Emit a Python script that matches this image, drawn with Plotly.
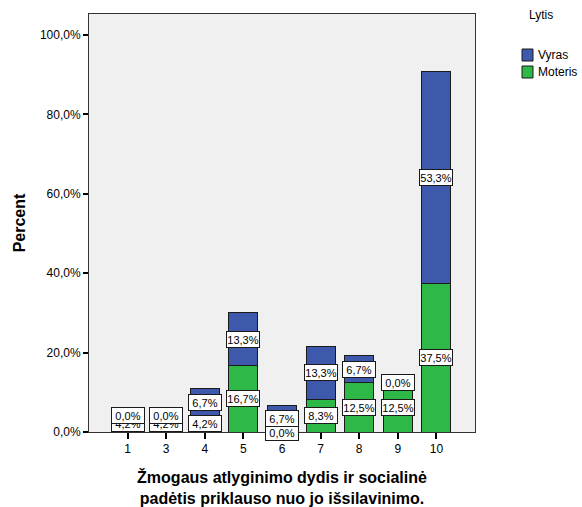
import plotly.graph_objects as go

categories = ["1", "3", "4", "5", "6", "7", "8", "9", "10"]
moteris = [4.2, 4.2, 4.2, 16.7, 0.0, 8.3, 12.5, 12.5, 37.5]
vyras = [0.0, 0.0, 6.7, 13.3, 6.7, 13.3, 6.7, 0.0, 53.3]
y_tickvals = [0, 20, 40, 60, 80, 100]
y_ticktext = ["0,0%", "20,0%", "40,0%", "60,0%", "80,0%", "100,0%"]
legend_title = "Lytis"
legend_names = ["Vyras", "Moteris"]

GREEN = "#2eb848"
BLUE = "#3e58ac"
FONT = "Liberation Sans, Arial, sans-serif"

W, H = 582, 507
L, R, T, B = 89, 107, 14, 75
PW, PH = W - L - R, H - T - B

def fmt(v):
    return f"{v:.1f}%".replace(".", ",")

def px(x):
    return (x - L) / PW

def py(y):
    return (H - B - y) / PH

fig = go.Figure()
fig.add_trace(go.Bar(x=categories, y=moteris, name="Moteris", showlegend=False,
                     marker=dict(color=GREEN, line=dict(color="#1a1a1a", width=1)), width=0.75))
fig.add_trace(go.Bar(x=categories, y=vyras, name="Vyras", showlegend=False,
                     marker=dict(color=BLUE, line=dict(color="#1a1a1a", width=1)), width=0.75))

ann = []
for i, m in enumerate(moteris):
    ann.append(dict(x=i, y=m / 2, text=fmt(m)))
for i, (m, v) in enumerate(zip(moteris, vyras)):
    ann.append(dict(x=i, y=m + v / 2, text=fmt(v)))
for a in ann:
    a.update(xref="x", yref="y", showarrow=False, bgcolor="white", bordercolor="#1a1a1a",
             borderwidth=1, borderpad=0, font=dict(family=FONT, size=11, color="black"),
             width=32, height=15)

# manual legend
ann.append(dict(xref="paper", yref="paper", x=px(541), y=py(15), text=legend_title, showarrow=False,
                font=dict(family=FONT, size=12, color="black"), xanchor="center", yanchor="middle"))
shapes = []
colors = [BLUE, GREEN]
for k, (name, col) in enumerate(zip(legend_names, colors)):
    yc = 55 + 17 * k
    shapes.append(dict(type="rect", xref="paper", yref="paper", x0=px(522), x1=px(533),
                       y0=py(yc - 6), y1=py(yc + 6), fillcolor=col, line=dict(color="#1a1a1a", width=1)))
    ann.append(dict(xref="paper", yref="paper", x=px(536), y=py(yc), text=name, showarrow=False,
                    font=dict(family=FONT, size=12, color="black"), xanchor="left", yanchor="middle"))

fig.update_layout(annotations=ann, shapes=shapes)

fig.update_layout(
    width=W, height=H,
    margin=dict(l=L, r=R, t=T, b=B),
    barmode="stack",
    paper_bgcolor="white",
    plot_bgcolor="#f0f0f0",
    font=dict(family=FONT, size=12, color="black"),
    showlegend=False,
    xaxis=dict(
        type="category", range=[-1, 9], showgrid=False, automargin=False,
        ticks="outside", ticklen=6, tickwidth=2, tickcolor="black",
        showline=True, linecolor="#333", linewidth=1, mirror=True,
        tickfont=dict(size=12),
        title=dict(text="<b>Žmogaus atlyginimo dydis ir socialinė<br>padėtis priklauso nuo jo išsilavinimo.</b>",
                   font=dict(size=16), standoff=18),
    ),
    yaxis=dict(
        range=[0, 105.3], showgrid=False, zeroline=False, automargin=False,
        tickvals=y_tickvals, ticktext=y_ticktext,
        ticks="outside", ticklen=5, tickwidth=2, tickcolor="black",
        showline=True, linecolor="#333", linewidth=1, mirror=True,
        tickfont=dict(size=12),
        title=dict(text="<b>Percent</b>", font=dict(size=16), standoff=10),
    ),
)
fig.write_html("out.html", config={"displayModeBar": False},
               post_script="document.body.style.margin='0px';document.body.style.overflow='hidden';")
